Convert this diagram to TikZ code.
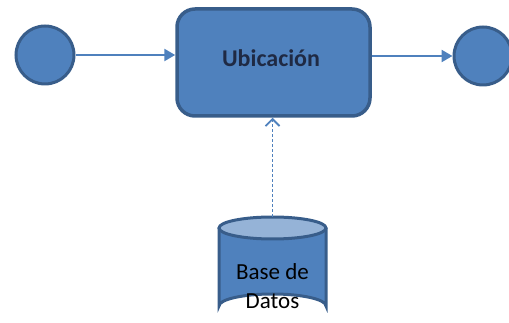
\documentclass[tikz,border=0pt]{standalone}
\usepackage{fontspec}
\setmainfont{Carlito}
\usetikzlibrary{arrows.meta}
\definecolor{fillblue}{HTML}{4F81BD}
\definecolor{edgeblue}{HTML}{385D8A}
\definecolor{topblue}{HTML}{95B3D7}
\definecolor{navy}{HTML}{1F2A44}
\tikzset{
  endpt/.style={circle, fill=fillblue, draw=edgeblue, line width=3pt, minimum size=58pt, inner sep=0pt},
  procbox/.style={rectangle, rounded corners=18pt, fill=fillblue, draw=edgeblue, line width=3.5pt, minimum width=193pt, minimum height=107pt, inner sep=0pt},
  flow/.style={draw=fillblue, line width=2.5pt, -{Triangle[length=11pt,width=12pt]}},
  dataflow/.style={draw=fillblue, line width=1.8pt, dash pattern=on 3pt off 2pt, -{Straight Barb[length=7pt,width=14pt,line width=1.8pt]}}
}
\begin{document}
\begin{tikzpicture}[x=1pt,y=-1pt]
\useasboundingbox (0,0) rectangle (509,323);
\node[endpt] (start) at (45,55) {};
\node[endpt] (finish) at (483,56) {};
\node[procbox] (ubic) at (273.5,62.5) {};
\node[text=navy, font=\bfseries\fontsize{24}{28}\selectfont] (ulabel) at (271,58) {Ubicación};
% database cylinder
\fill[fillblue] (219,228) -- (219,306) arc[start angle=180,end angle=360,x radius=53.5,y radius=12] -- (326,228) -- cycle;
\draw[edgeblue, line width=3pt] (219,228) -- (219,306) arc[start angle=180,end angle=360,x radius=53.5,y radius=12] -- (326,228);
\draw[edgeblue, line width=3pt, fill=topblue] (272.5,228) ellipse[x radius=53.5, y radius=11];
\coordinate (dbtop) at (272.5,217);
\node[align=center, font=\fontsize{23}{29}\selectfont] (db) at (272.5,286) {Base de\\Datos};
\draw[flow] (start) -- (ubic.west |- start);
\draw[flow] (ubic.east |- finish) -- (finish);
\draw[dataflow] (dbtop) -- (ubic.south -| dbtop);
\end{tikzpicture}
\end{document}
